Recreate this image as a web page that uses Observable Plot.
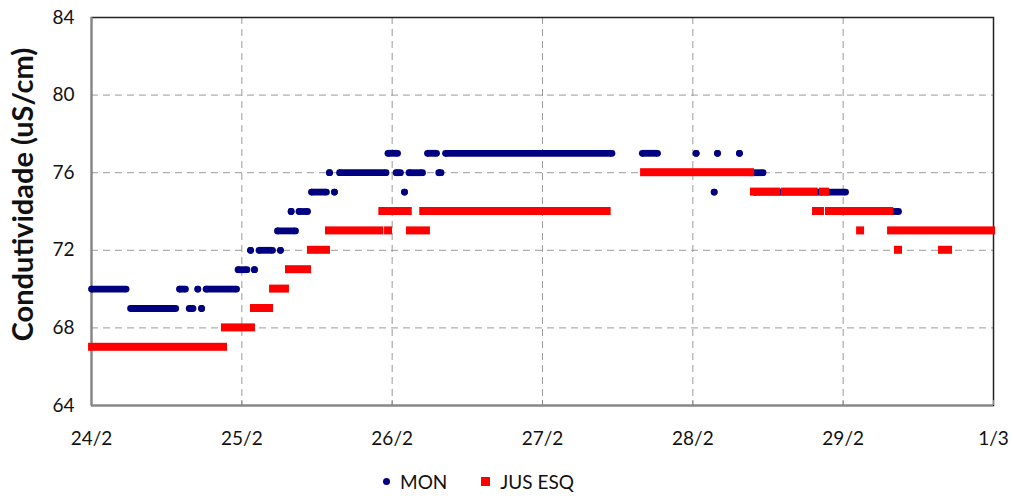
<!DOCTYPE html>
<html>
<head>
<meta charset="utf-8">
<script src="https://cdn.jsdelivr.net/npm/d3@7"></script>
<script src="https://cdn.jsdelivr.net/npm/@observablehq/plot@0.6"></script>
<style>
  body { margin: 0; background: #fff; font-family: Lato, "Open Sans", sans-serif; }
  #legend { display: flex; justify-content: center; align-items: center; height: 43px; padding-right: 56px; font-size: 19px; color: #111; }
  #legend .item { display: flex; align-items: center; margin: 0 17px; }
  #legend .dot { width: 7px; height: 7px; border-radius: 50%; background: #000080; margin-right: 10px; }
  #legend .sq { width: 9px; height: 9px; background: #ff0000; margin-right: 10px; }
</style>
</head>
<body>
<div id="chart"></div>
<div id="legend">
  <div class="item"><span class="dot"></span>MON</div>
  <div class="item"><span class="sq"></span>JUS ESQ</div>
</div>
<script>
// Days since 24/2 and their labels
const dayTicks = [0, 1, 2, 3, 4, 5, 6];
const dayLabels = ["24/2", "25/2", "26/2", "27/2", "28/2", "29/2", "1/3"];
const yTicks = [64, 68, 72, 76, 80, 84];
const yTitle = "Condutividade (uS/cm)";

// Runs of constant reading: [first sample (days), last sample (days), value]
const monRuns = [
  [0.00, 0.23, 70], [0.26, 0.56, 69], [0.585, 0.625, 70], [0.65, 0.675, 69],
  [0.707, 0.707, 70], [0.732, 0.732, 69], [0.762, 0.965, 70], [0.975, 1.034, 71],
  [1.058, 1.058, 72], [1.084, 1.084, 71], [1.114, 1.204, 72], [1.257, 1.257, 72],
  [1.237, 1.357, 73], [1.328, 1.328, 74], [1.38, 1.437, 74], [1.463, 1.563, 75],
  [1.616, 1.616, 75], [1.583, 1.583, 76], [1.65, 1.959, 76], [2.026, 2.055, 76],
  [2.112, 2.202, 76], [2.31, 2.325, 76], [1.972, 2.036, 77], [2.235, 2.295, 77],
  [2.355, 3.462, 77], [2.082, 2.082, 75], [3.664, 3.765, 77], [4.022, 4.022, 77],
  [4.164, 4.164, 77], [4.31, 4.31, 77], [4.142, 4.142, 75], [4.37, 4.467, 76],
  [4.41, 5.016, 75], [5.28, 5.368, 74]
];

const jusRuns = [
  [0.007, 0.878, 67], [0.891, 1.064, 68], [1.084, 1.184, 69], [1.211, 1.29, 70],
  [1.317, 1.437, 71], [1.463, 1.563, 72], [1.583, 1.918, 73], [1.976, 1.976, 73],
  [1.938, 2.107, 74], [2.122, 2.228, 73], [2.21, 3.43, 74], [3.679, 4.384, 76],
  [4.41, 4.557, 75], [4.615, 4.807, 75], [4.869, 4.883, 75], [4.823, 4.849, 74],
  [4.909, 5.31, 74], [5.116, 5.116, 73], [5.322, 5.987, 73], [5.368, 5.368, 72],
  [5.661, 5.701, 72]
];

const mon = monRuns.map(([t0, t1, v]) => ({t0, t1, v}));
const jus = jusRuns.map(([t0, t1, v]) => ({t0, t1, v}));

const navy = "#000080";
const red = "#ff0000";
const grid = {stroke: "#9a9a9a", strokeOpacity: 1, strokeDasharray: "7,5", strokeWidth: 1};

const chart = Plot.plot({
  width: 1013,
  height: 460,
  marginLeft: 91,
  marginRight: 20,
  marginTop: 17,
  marginBottom: 55,
  style: {fontFamily: "Lato, 'Open Sans', sans-serif", color: "#111", background: "#fff"},
  x: {domain: [0, 6], axis: null},
  y: {domain: [64, 84], axis: null},
  marks: [
    Plot.gridY(yTicks.slice(1, -1), grid),
    Plot.gridX(dayTicks.slice(1, -1), grid),
    Plot.frame({stroke: "#222", strokeWidth: 1.5}),
    Plot.ruleX([0], {stroke: "#868686", strokeWidth: 2}),
    Plot.ruleY([64], {stroke: "#868686", strokeWidth: 2}),
    // inward tick marks on the day axis
    Plot.ruleX(dayTicks, {x: d => d, y1: 64, y2: 64, insetTop: -5, stroke: "#868686", strokeWidth: 1}),
    // day labels under the frame
    Plot.text(dayTicks, {x: d => d, text: (d, i) => dayLabels[i], frameAnchor: "bottom", lineAnchor: "top", dy: 26, fontSize: 19, fill: "#111"}),
    // conductivity labels left of the frame
    Plot.text(yTicks, {y: d => d, text: d => String(d), frameAnchor: "left", textAnchor: "end", dx: -17, fontSize: 19, fill: "#111"}),
    Plot.text([yTitle], {frameAnchor: "left", textAnchor: "middle", rotate: -90, dx: -68, dy: -17, fontSize: 29, fontWeight: "bold", fill: "#111"}),
    // MON: navy round samples
    Plot.ruleY(mon, {y: "v", x1: "t0", x2: "t1", stroke: navy, strokeWidth: 6.8}),
    Plot.dot(mon, {x: "t0", y: "v", r: 3.4, fill: navy}),
    Plot.dot(mon, {x: "t1", y: "v", r: 3.4, fill: navy}),
    // JUS ESQ: red square samples
    Plot.rect(jus, {x1: "t0", x2: "t1", y1: "v", y2: "v", insetLeft: -4, insetRight: -4, insetTop: -4, insetBottom: -4, fill: red})
  ]
});
document.getElementById("chart").append(chart);
</script>
</body>
</html>
